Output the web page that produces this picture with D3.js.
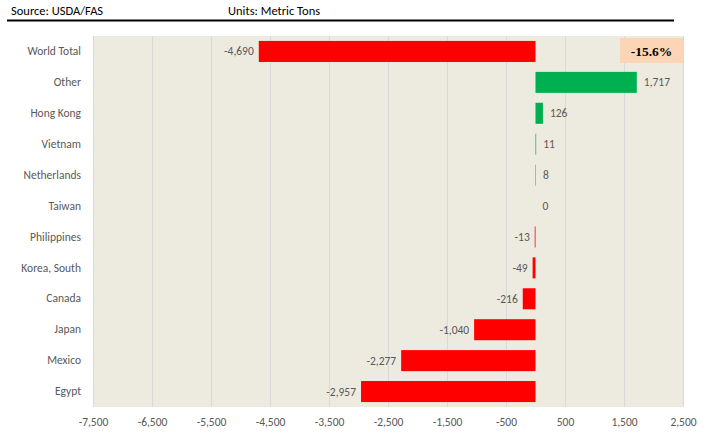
<!DOCTYPE html>
<html><head><meta charset="utf-8">
<script src="https://cdn.jsdelivr.net/npm/d3@7"></script>
<style>body{margin:0;background:#fff}svg{display:block}</style>
</head><body>
<svg id="c" width="710" height="435"></svg>
<script>
const categories = ["World Total","Other","Hong Kong","Vietnam","Netherlands","Taiwan","Philippines","Korea, South","Canada","Japan","Mexico","Egypt"];
const values = [-4690,1717,126,11,8,0,-13,-49,-216,-1040,-2277,-2957];
const tickValues = [-7500,-6500,-5500,-4500,-3500,-2500,-1500,-500,500,1500,2500];
const worldChange = "-15.6%";
const sourceText = "Source: USDA/FAS";
const unitsText = "Units: Metric Tons";

const font = "Carlito,Lato,'Open Sans',sans-serif";
const svg = d3.select("#c");
const m = {left:93, right:683, top:36, bottom:407};
const x = d3.scaleLinear().domain([-7500,2500]).range([m.left,m.right]);
const y = d3.scaleBand().domain(categories).range([m.top,m.bottom]).paddingInner(0.32).paddingOuter(0.16);

svg.append("text").attr("x",11).attr("y",15).attr("font-family",font).attr("font-size",12.5).attr("fill","#000").text(sourceText);
svg.append("text").attr("x",228).attr("y",15).attr("font-family",font).attr("font-size",12.5).attr("fill","#000").text(unitsText);
svg.append("line").attr("x1",7).attr("x2",674).attr("y1",20.5).attr("y2",20.5).attr("stroke","#000").attr("stroke-width",2);

svg.append("rect").attr("x",m.left).attr("y",m.top).attr("width",m.right-m.left).attr("height",m.bottom-m.top).attr("fill","#EDEAE0");

svg.append("g").selectAll("line").data(tickValues).join("line")
  .attr("x1",d=>x(d)+0.5).attr("x2",d=>x(d)+0.5).attr("y1",m.top).attr("y2",m.bottom)
  .attr("stroke","#D9D9D9").attr("stroke-width",1);

const xAxis = d3.axisBottom(x).tickValues(tickValues).tickSize(0).tickPadding(9).tickFormat(d3.format(","));
const gx = svg.append("g").attr("transform",`translate(0,${m.bottom+2})`).call(xAxis);
gx.select(".domain").remove();
gx.selectAll("text").attr("font-family",font).attr("font-size",11.5).attr("fill","#595959").text(d=>d3.format(",")(d).replace("−","-"));

const yAxis = d3.axisLeft(y).tickSize(0).tickPadding(12);
const gy = svg.append("g").attr("transform",`translate(${m.left},0)`).call(yAxis);
gy.select(".domain").remove();
gy.selectAll("text").attr("font-family",font).attr("font-size",11.5).attr("fill","#595959");

const data = categories.map((c,i)=>({c, v:values[i]}));
svg.append("g").selectAll("rect").data(data).join("rect")
  .attr("x",d=>x(Math.min(0,d.v))).attr("width",d=>Math.abs(x(d.v)-x(0)))
  .attr("y",d=>y(d.c)).attr("height",y.bandwidth())
  .attr("fill",d=>d.v>=0?"#00B050":"#FF0000");

svg.append("g").selectAll("text").data(data).join("text")
  .attr("x",d=>d.v<0 ? x(d.v)-5 : x(d.v)+7)
  .attr("y",d=>y(d.c)+y.bandwidth()/2+4)
  .attr("text-anchor",d=>d.v<0?"end":"start")
  .attr("font-family",font).attr("font-size",11.5).attr("fill","#595959")
  .text(d=>d3.format(",")(d.v).replace("−","-"));

svg.append("rect").attr("x",620).attr("y",38).attr("width",63).attr("height",25).attr("fill","#FBD5B5");
svg.append("text").attr("x",651.5).attr("y",55.5).attr("text-anchor","middle")
  .attr("font-family","'Liberation Serif','Times New Roman',serif").attr("font-weight","bold").attr("font-size",13.5).attr("fill","#000").text(worldChange);
</script>
</body></html>
